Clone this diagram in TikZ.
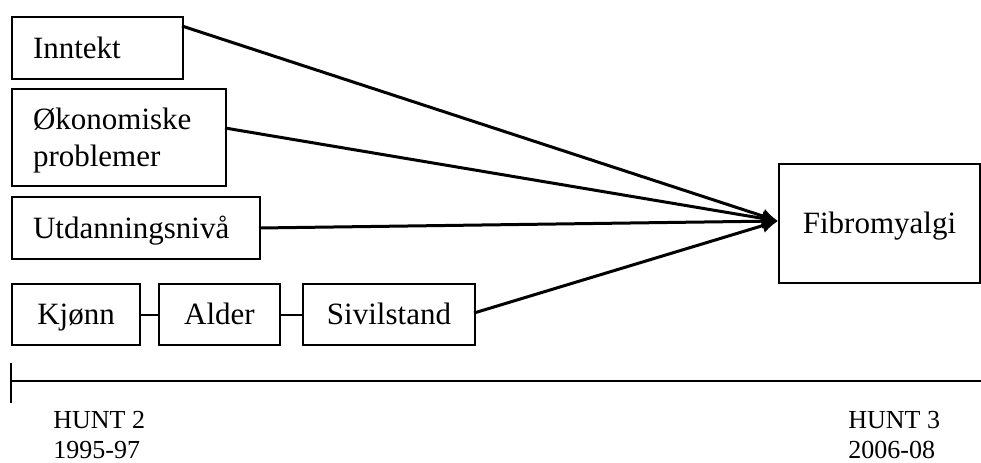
\documentclass[tikz,border=0pt]{standalone}
\usepackage{fontspec}
\setmainfont{Liberation Serif}
\usetikzlibrary{arrows.meta}
\begin{document}
\begin{tikzpicture}[x=0.5pt,y=-0.5pt,
  box/.style={draw,line width=1pt,rectangle,anchor=north west,inner xsep=10.5pt,inner ysep=0pt,
    font=\fontsize{15.5}{18.5}\selectfont},
  oneline/.style={text height=10.3pt,text depth=0pt},
  lbox/.style={box,align=left},
  cbox/.style={box,oneline,align=center,inner xsep=0pt},
  arr/.style={line width=1.5pt,-{Latex[length=8pt,width=7.5pt]}},
  link/.style={line width=1pt},
  timeline/.style={line width=1.3pt},
  lbl/.style={anchor=north west,align=left,inner sep=0pt,font=\fontsize{13}{15}\selectfont}]
\useasboundingbox (0,0) rectangle (981,462);
\node[lbox,oneline,text width=64.5pt,minimum height=31pt] (inn) at (11,16) {Inntekt};
\node[lbox,text depth=19pt,text width=86pt,minimum height=48.5pt] (oko) at (11,88) {Økonomiske\\problemer};
\node[lbox,oneline,text width=103pt,minimum height=31pt] (utd) at (11,196) {Utdanningsnivå};
\node[cbox,minimum width=64pt,minimum height=30.5pt] (kjo) at (11,283) {Kjønn};
\node[cbox,minimum width=60.5pt,minimum height=30.5pt] (ald) at (158,283) {Alder};
\node[cbox,minimum width=86pt,minimum height=30.5pt] (siv) at (302,283) {Sivilstand};
\node[cbox,minimum width=100.5pt,minimum height=59.5pt] (fib) at (778,163) {Fibromyalgi};
\coordinate (tip) at (778,221);
\coordinate (innout) at (182,26);
\coordinate (okoout) at (225,128);
\coordinate (utdout) at (259,228);
\coordinate (sivout) at (474,313);
\draw[arr] (innout) -- (tip);
\draw[arr] (okoout) -- (tip);
\draw[arr] (utdout) -- (tip);
\draw[arr] (sivout) -- (tip);
\draw[link] (kjo.east) -- (ald.west);
\draw[link] (ald.east) -- (siv.west);
\coordinate (tl0) at (11,381);
\coordinate (tl1) at (981,381);
\coordinate (tk0) at (11,363);
\coordinate (tk1) at (11,403);
\draw[timeline] (tl0) -- (tl1);
\draw[timeline] (tk0) -- (tk1);
\node[lbl] (h2) at (53,411) {HUNT 2\\1995-97};
\node[lbl] (h3) at (848,411) {HUNT 3\\2006-08};
\end{tikzpicture}
\end{document}
